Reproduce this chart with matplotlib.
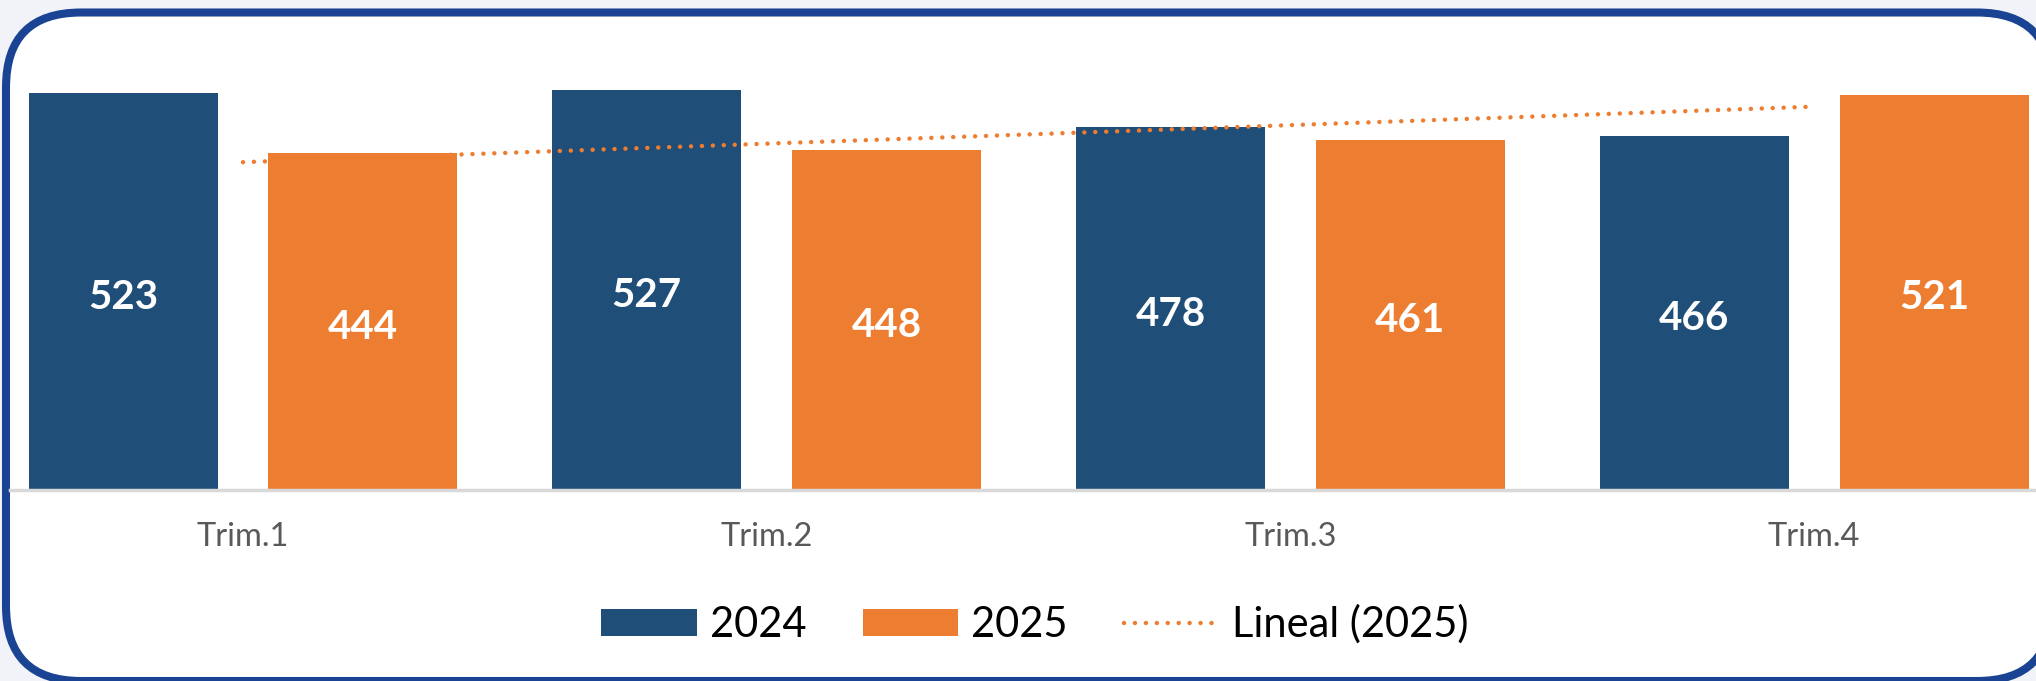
import numpy as np
import matplotlib
matplotlib.use("Agg")
import matplotlib.pyplot as plt
from matplotlib.patches import FancyBboxPatch

# data
quarters = ["Trim.1", "Trim.2", "Trim.3", "Trim.4"]
v2024 = [523, 527, 478, 466]
v2025 = [444, 448, 461, 521]

blue = "#1F4E79"
orange = "#ED7D31"

plt.rcParams['font.family'] = ['Lato', 'DejaVu Sans']

W, H = 2036, 681
fig = plt.figure(figsize=(W / 100, H / 100), dpi=100)
fig.patch.set_facecolor("#F2F3F8")

# rounded frame, drawn in pixel units
ax_bg = fig.add_axes([0, 0, 1, 1], zorder=0)
ax_bg.set_xlim(0, W)
ax_bg.set_ylim(H, 0)
ax_bg.axis("off")
frame = FancyBboxPatch((6, 12.5), 2046, 668.5,
                       boxstyle="round,pad=0,rounding_size=75",
                       facecolor="white", edgecolor="#1A4493",
                       linewidth=5.8)
ax_bg.add_patch(frame)

# main chart
ax = fig.add_axes([10 / W, (H - 490) / H, 2026 / W, 480 / H], zorder=1)
ax.patch.set_alpha(0)

x = np.arange(len(quarters))
bw = 0.361
off = 0.229
b1 = ax.bar(x - off, v2024, bw, color=blue, label="2024", zorder=2)
b2 = ax.bar(x + off, v2025, bw, color=orange, label="2025", zorder=2)

# value labels in the middle of each bar
for xs, vals in ((x - off, v2024), (x + off, v2025)):
    for xi, v in zip(xs, vals):
        ax.annotate(str(v), (xi, v / 2), xytext=(0, -4),
                    textcoords="offset points", ha="center", va="center",
                    color="white", fontsize=29, fontweight="bold", zorder=4)

# linear trendline of 2025 (like Excel)
coef = np.polyfit(x, v2025, 1)
trend = np.polyval(coef, x)
ln, = ax.plot(x, trend, color=orange, linewidth=3.2,
              linestyle=(0, (0.01, 2.45)), dash_capstyle="round",
              label="Lineal (2025)", zorder=3)

ax.set_xlim(-0.4449, 3.4237)
ax.set_ylim(0, 632.4)
ax.set_xticks(x)
ax.set_xticklabels(quarters, fontsize=23.5, color="#595959")
ax.tick_params(axis="x", length=0, pad=23)
ax.set_yticks([])
for s in ["top", "right", "left"]:
    ax.spines[s].set_visible(False)
ax.spines["bottom"].set_color("#D9D9D9")
ax.spines["bottom"].set_linewidth(2.5)

fig.legend(handles=[b1, b2, ln], loc="center",
           bbox_to_anchor=(1035 / W, 0.083), ncol=3,
           frameon=False, fontsize=30, handlelength=2.3,
           handleheight=0.65, handletextpad=0.3, columnspacing=1.35)

fig.savefig("out.png", dpi=100, facecolor=fig.get_facecolor())
